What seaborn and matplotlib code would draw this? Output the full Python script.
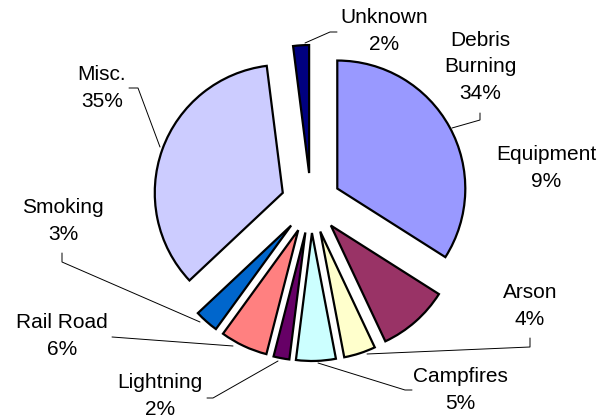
import matplotlib
matplotlib.use("Agg")
import matplotlib.pyplot as plt
import seaborn as sns

sns.set_theme(style="white")
plt.rcParams['font.family'] = ['Liberation Sans', 'DejaVu Sans']

# ---- data ----
categories = ["Debris\nBurning", "Equipment", "Arson", "Campfires", "Lightning",
              "Rail Road", "Smoking", "Misc.", "Unknown"]
values = [34, 9, 4, 5, 2, 6, 3, 35, 2]
colors = ["#9999FF", "#993366", "#FFFFCC", "#CCFFFF", "#660066",
          "#FF8080", "#0066CC", "#CCCCFF", "#000080"]

# ---- layout (pixels) ----
W, H = 612, 419
CX, CY, R = 311, 203, 128
EXPLODE = 30 / R

label_pos = [(480, 67), (546, 168), (530, 306), (460, 390), (160, 396),
             (62, 336), (63, 221), (102, 88), (384, 31)]
leaders = [
    [(452, 128), (480, 120), (480, 113)],
    None,
    [(367, 354), (530, 347), (530, 338)],
    [(318, 363), (405, 390), (412, 390)],
    [(278, 361), (213, 398), (207, 398)],
    [(233, 346), (112, 337)],
    [(200, 322), (62, 262), (62, 253)],
    [(160, 147), (138, 88), (129, 88)],
    [(305, 43), (330, 32), (337, 32)],
]


def px(p):
    return ((p[0] - CX) / R, (CY - p[1]) / R)


fig = plt.figure(figsize=(W / 100, H / 100), dpi=100)
ax = fig.add_axes([0, 0, 1, 1])
ax.pie(values, colors=colors, startangle=90, counterclock=False,
       explode=[EXPLODE] * len(values), radius=1,
       wedgeprops=dict(edgecolor="black", linewidth=1.6))
ax.set_aspect("equal")
ax.set_xlim(-CX / R, (W - CX) / R)
ax.set_ylim(-(H - CY) / R, CY / R)
ax.axis("off")

for cat, v, pos, ld in zip(categories, values, label_pos, leaders):
    x, y = px(pos)
    ax.text(x, y, f"{cat}\n{v}%", ha="center", va="center", fontsize=15,
            color="black", linespacing=1.5)
    if ld:
        pts = [px(p) for p in ld]
        ax.plot([p[0] for p in pts], [p[1] for p in pts], color="black",
                lw=0.7, zorder=0.5)

fig.savefig("out.png", dpi=100, facecolor="white")
